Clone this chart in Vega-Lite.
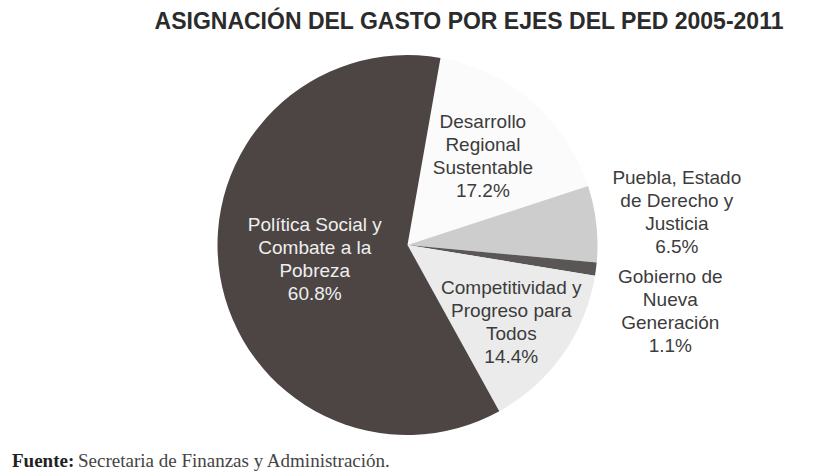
{
  "$schema": "https://vega.github.io/schema/vega-lite/v6.json",
  "width": 815,
  "height": 410,
  "autosize": "none",
  "padding": {"top": 40, "left": 0, "right": 0, "bottom": 24},
  "background": "#ffffff",
  "view": {"stroke": null},
  "datasets": {
    "ejes": [
      {"eje": "Desarrollo Regional Sustentable", "pct": 17.2, "orden": 1, "etiqueta": "Desarrollo\nRegional\nSustentable\n17.2%"},
      {"eje": "Puebla, Estado de Derecho y Justicia", "pct": 6.5, "orden": 2, "etiqueta": "Puebla, Estado\nde Derecho y\nJusticia\n6.5%"},
      {"eje": "Gobierno de Nueva Generación", "pct": 1.1, "orden": 3, "etiqueta": "Gobierno de\nNueva\nGeneración\n1.1%"},
      {"eje": "Competitividad y Progreso para Todos", "pct": 14.4, "orden": 4, "etiqueta": "Competitividad y\nProgreso para\nTodos\n14.4%"},
      {"eje": "Política Social y Combate a la Pobreza", "pct": 60.8, "orden": 5, "etiqueta": "Política Social y\nCombate a la\nPobreza\n60.8%"}
    ],
    "titulo": [{"texto": "ASIGNACIÓN DEL GASTO POR EJES DEL PED 2005-2011"}],
    "fuente": [{"negrita": "Fuente:", "texto": "Secretaria de Finanzas y Administración."}]
  },
  "layer": [
    {
      "data": {"name": "ejes"},
      "mark": {"type": "arc", "outerRadius": 190},
      "encoding": {
        "theta": {"field": "pct", "type": "quantitative", "stack": true, "scale": {"range": [0.1745, 6.4577]}},
        "order": {"field": "orden", "type": "quantitative"},
        "color": {
          "field": "eje",
          "type": "nominal",
          "scale": {
            "domain": ["Desarrollo Regional Sustentable", "Puebla, Estado de Derecho y Justicia", "Gobierno de Nueva Generación", "Competitividad y Progreso para Todos", "Política Social y Combate a la Pobreza"],
            "range": ["#fbfbfb", "#cdcdcd", "#5a5656", "#ebebeb", "#4c4543"]
          },
          "legend": null
        }
      }
    },
    {
      "data": {"name": "ejes"},
      "mark": {"type": "text", "radius": 94, "dy": -35, "font": "Liberation Sans", "fontSize": 19, "lineHeight": 23, "lineBreak": "\n", "color": "#efefef"},
      "encoding": {
        "theta": {"field": "pct", "type": "quantitative", "stack": true},
        "order": {"field": "orden", "type": "quantitative"},
        "text": {"condition": {"test": "datum.orden == 5", "field": "etiqueta"}, "value": ""}
      }
    },
    {
      "data": {"name": "ejes"},
      "mark": {"type": "text", "radius": 115, "dy": -36, "font": "Liberation Sans", "fontSize": 19, "lineHeight": 23, "lineBreak": "\n", "color": "#3c3c3c"},
      "encoding": {
        "theta": {"field": "pct", "type": "quantitative", "stack": true},
        "order": {"field": "orden", "type": "quantitative"},
        "text": {"condition": {"test": "datum.orden == 1", "field": "etiqueta"}, "value": ""}
      }
    },
    {
      "data": {"name": "ejes"},
      "mark": {"type": "text", "radius": 127, "dy": -30, "font": "Liberation Sans", "fontSize": 19, "lineHeight": 23, "lineBreak": "\n", "color": "#3c3c3c"},
      "encoding": {
        "theta": {"field": "pct", "type": "quantitative", "stack": true},
        "order": {"field": "orden", "type": "quantitative"},
        "text": {"condition": {"test": "datum.orden == 4", "field": "etiqueta"}, "value": ""}
      }
    },
    {
      "data": {"name": "ejes"},
      "mark": {"type": "text", "radius": 271, "dy": -37, "font": "Liberation Sans", "fontSize": 19, "lineHeight": 23, "lineBreak": "\n", "color": "#3c3c3c"},
      "encoding": {
        "theta": {"field": "pct", "type": "quantitative", "stack": true},
        "order": {"field": "orden", "type": "quantitative"},
        "text": {"condition": {"test": "datum.orden == 2", "field": "etiqueta"}, "value": ""}
      }
    },
    {
      "data": {"name": "ejes"},
      "mark": {"type": "text", "radius": 271, "dx": -6, "dy": -2, "font": "Liberation Sans", "fontSize": 19, "lineHeight": 23, "lineBreak": "\n", "color": "#3c3c3c"},
      "encoding": {
        "theta": {"field": "pct", "type": "quantitative", "stack": true},
        "order": {"field": "orden", "type": "quantitative"},
        "text": {"condition": {"test": "datum.orden == 3", "field": "etiqueta"}, "value": ""}
      }
    },
    {
      "data": {"name": "titulo"},
      "mark": {"type": "text", "font": "Liberation Sans", "fontSize": 23, "fontWeight": "bold", "letterSpacing": 0.5, "align": "center", "baseline": "alphabetic", "color": "#2b2b2b"},
      "encoding": {
        "text": {"field": "texto"},
        "x": {"value": 469},
        "y": {"value": -11}
      }
    },
    {
      "data": {"name": "fuente"},
      "mark": {"type": "text", "font": "Liberation Serif", "fontSize": 19, "fontWeight": "bold", "align": "left", "baseline": "alphabetic", "color": "#222222"},
      "encoding": {
        "text": {"field": "negrita"},
        "x": {"value": 12},
        "y": {"value": 427}
      }
    },
    {
      "data": {"name": "fuente"},
      "mark": {"type": "text", "font": "Liberation Serif", "fontSize": 19, "align": "left", "baseline": "alphabetic", "color": "#444444"},
      "encoding": {
        "text": {"field": "texto"},
        "x": {"value": 78},
        "y": {"value": 427}
      }
    }
  ]
}
